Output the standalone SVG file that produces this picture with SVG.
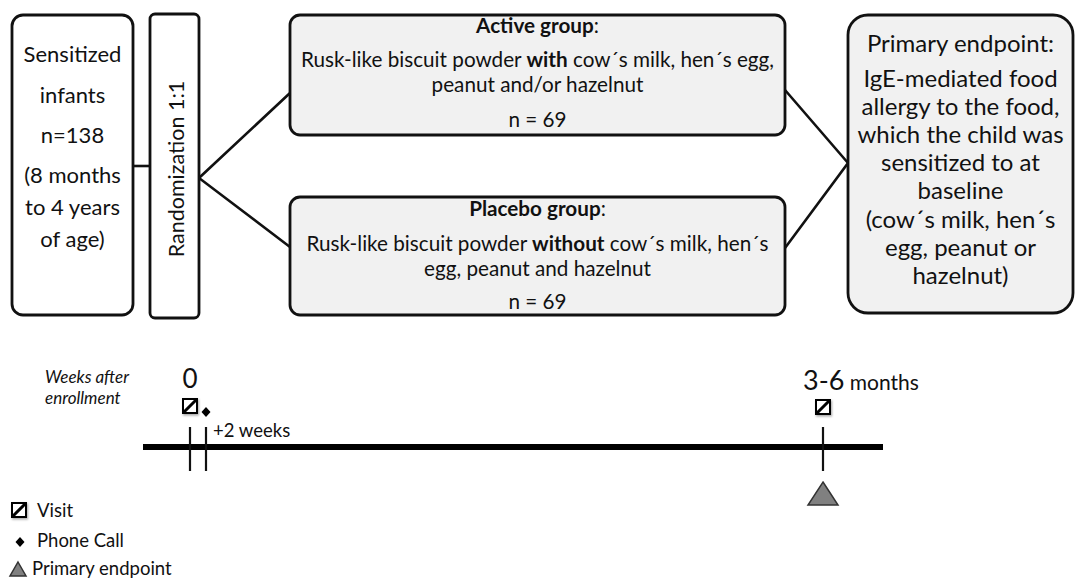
<svg xmlns="http://www.w3.org/2000/svg" width="1076" height="578" viewBox="0 0 1076 578">
<defs>
<style>
text{font-family:Lato,"Open Sans","Liberation Sans",sans-serif;fill:#111}
.box{fill:#fff;stroke:#111;stroke-width:2.8}
.gbox{fill:#f1f1f1;stroke:#111;stroke-width:2.8}
.conn{stroke:#111;stroke-width:2.6;fill:none}
.lb{font-size:22px;text-anchor:middle}
.gt{font-size:20.7px;text-anchor:middle}
.rt{font-size:24px;text-anchor:middle}
.lg{font-size:18.5px}
.tick{stroke:#111;stroke-width:2.2}
</style>
<filter id="sh" x="-30%" y="-30%" width="170%" height="170%"><feDropShadow dx="1" dy="1.5" stdDeviation="1" flood-color="#000" flood-opacity="0.35"/></filter>
<g id="visit"><rect x="0" y="0" width="14" height="14" fill="#fff" stroke="#000" stroke-width="2" filter="url(#sh)"/><line x1="1" y1="13" x2="13" y2="1" stroke="#000" stroke-width="3"/></g>
</defs>
<g id="connectors">
<line class="conn" x1="133" y1="166" x2="150" y2="166"/>
<polyline class="conn" points="290,93 199,178 290,247"/>
<polyline class="conn" points="785,90 848,163 785,248"/>
</g>
<g id="sensitized">
<rect class="box" x="12" y="15" width="121" height="300" rx="11"/>
<text class="lb" x="72.5" y="62">Sensitized</text>
<text class="lb" x="72.5" y="103">infants</text>
<text class="lb" x="72.5" y="143">n=138</text>
<text class="lb" x="72.5" y="183">(8 months</text>
<text class="lb" x="72.5" y="215">to 4 years</text>
<text class="lb" x="72.5" y="247">of age)</text>
</g>
<g id="randomization">
<rect class="box" x="150" y="14" width="49" height="304" rx="5"/>
<text transform="translate(184,169) rotate(-90)" style="font-size:21.5px;text-anchor:middle">Randomization 1:1</text>
</g>
<g id="active">
<rect class="gbox" x="290" y="15" width="495" height="120" rx="10"/>
<text class="gt" x="537.5" y="33"><tspan font-weight="bold">Active group</tspan>:</text>
<text class="gt" x="537.5" y="67">Rusk-like biscuit powder <tspan font-weight="bold">with</tspan> cow´s milk, hen´s egg,</text>
<text class="gt" x="537.5" y="92">peanut and/or hazelnut</text>
<text class="gt" x="537.5" y="127">n = 69</text>
</g>
<g id="placebo">
<rect class="gbox" x="290" y="197" width="495" height="118" rx="10"/>
<text class="gt" x="537.5" y="216"><tspan font-weight="bold">Placebo group</tspan>:</text>
<text class="gt" x="537.5" y="251">Rusk-like biscuit powder <tspan font-weight="bold">without</tspan> cow´s milk, hen´s</text>
<text class="gt" x="537.5" y="276">egg, peanut and hazelnut</text>
<text class="gt" x="537.5" y="309">n = 69</text>
</g>
<g id="endpoint">
<rect class="gbox" x="848" y="15" width="225" height="298" rx="20"/>
<text class="rt" x="960.5" y="52">Primary endpoint:</text>
<text class="rt" x="960.5" y="87">IgE-mediated food</text>
<text class="rt" x="960.5" y="115">allergy to the food,</text>
<text class="rt" x="960.5" y="143">which the child was</text>
<text class="rt" x="960.5" y="171">sensitized to at</text>
<text class="rt" x="960.5" y="199">baseline</text>
<text class="rt" x="960.5" y="228">(cow´s milk, hen´s</text>
<text class="rt" x="960.5" y="256">egg, peanut or</text>
<text class="rt" x="960.5" y="284">hazelnut)</text>
</g>
<g id="timeline">
<text x="45" y="383" style="font-size:17px;font-style:italic">Weeks after</text>
<text x="45" y="404" style="font-size:17px;font-style:italic">enrollment</text>
<text x="190" y="388" style="font-size:26px;text-anchor:middle">0</text>
<text x="803" y="390" style="font-size:27px">3-6<tspan style="font-size:21px"> months</tspan></text>
<line x1="143" y1="447" x2="883" y2="447" stroke="#000" stroke-width="6"/>
<line class="tick" x1="190" y1="427" x2="190" y2="471"/>
<line class="tick" x1="206" y1="427" x2="206" y2="471"/>
<line class="tick" x1="823" y1="427" x2="823" y2="471"/>
<use href="#visit" x="183" y="399"/>
<polygon points="206,407 210.5,412 206,417 201.5,412" fill="#000"/>
<text x="213" y="437" class="lg">+2 weeks</text>
<use href="#visit" x="816" y="400"/>
<polygon points="823,482 838,505 808,505" fill="#808080" stroke="#333" stroke-width="1.5"/>
</g>
<g id="legend">
<use href="#visit" x="12" y="503"/>
<text x="37" y="517" class="lg">Visit</text>
<polygon points="20,537 24.5,542 20,547 15.5,542" fill="#000"/>
<text x="37" y="547" class="lg">Phone Call</text>
<polygon points="18,562 26,576 10,576" fill="#808080" stroke="#333" stroke-width="1.5"/>
<text x="32" y="575" class="lg">Primary endpoint</text>
</g>
</svg>
